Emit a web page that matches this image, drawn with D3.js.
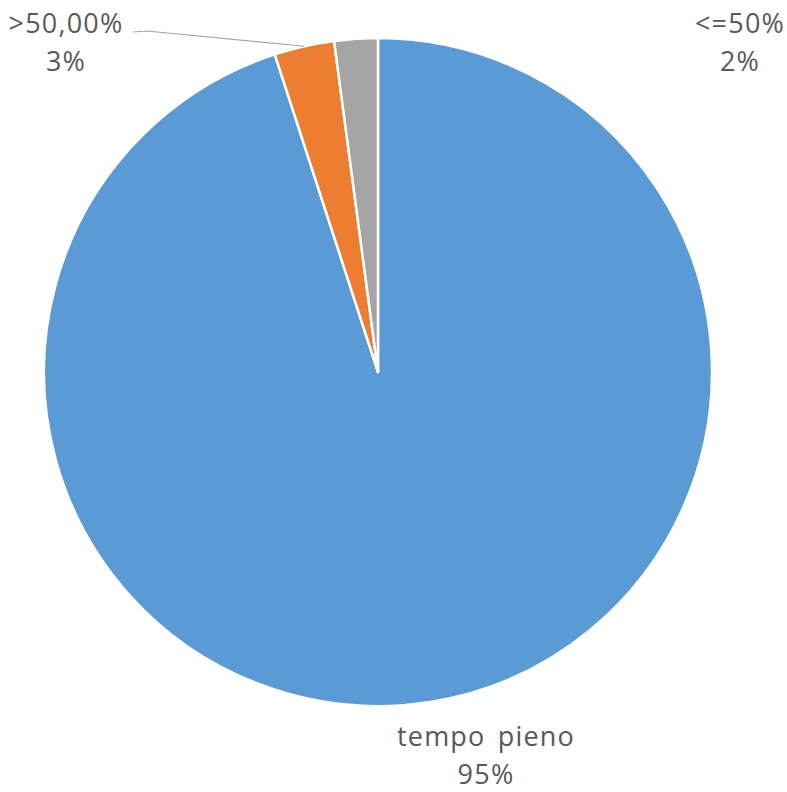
<!DOCTYPE html>
<html>
<head>
<meta charset="utf-8">
<script src="https://cdn.jsdelivr.net/npm/d3@7"></script>
<style>
  body { margin: 0; background: #fff; }
  #chart { width: 787px; height: 792px; }
  text { font-family: "Open Sans", "Noto Sans", sans-serif; fill: #595959; }
</style>
</head>
<body>
<div id="chart"></div>
<script>
const categories = ['tempo pieno', '>50,00%', '<=50%'];
const values = [95.0, 2.9, 2.1];
const valueLabels = ['95%', '3%', '2%'];
const colors = ['#5b9bd5', '#ed7d31', '#a5a5a5'];

const width = 787, height = 792;
const cx = 378, cy = 372, radius = 334;

// where each label block sits (center x, first baseline y)
const labelPlace = [
  { x: 486, y: 746 },
  { x: 66, y: 33 },
  { x: 740, y: 33 }
];

const svg = d3.select('#chart').append('svg')
  .attr('width', width)
  .attr('height', height);

const g = svg.append('g').attr('transform', `translate(${cx},${cy})`);

const data = categories.map((c, i) => ({ name: c, value: values[i], label: valueLabels[i], color: colors[i] }));

const pie = d3.pie().sort(null).value(d => d.value);
const arc = d3.arc().innerRadius(0).outerRadius(radius);
const arcs = pie(data);

g.selectAll('path')
  .data(arcs)
  .join('path')
  .attr('d', arc)
  .attr('fill', d => d.data.color)
  .attr('stroke', '#fff')
  .attr('stroke-width', 2.5)
  .attr('stroke-linejoin', 'round');

// leader line for the small orange slice
const lead = arcs[1];
const mid = (lead.startAngle + lead.endAngle) / 2;
const px = Math.sin(mid) * radius, py = -Math.cos(mid) * radius;
const lp = labelPlace[1];
g.append('polyline')
  .attr('points', [[lp.x - cx + 67, lp.y - cy - 1], [lp.x - cx + 81, lp.y - cy - 2], [px, py]].map(p => p.join(',')).join(' '))
  .attr('fill', 'none')
  .attr('stroke', '#a6a6a6')
  .attr('stroke-width', 1.2);

const lab = svg.selectAll('g.lab')
  .data(arcs)
  .join('g')
  .attr('class', 'lab')
  .attr('transform', (d, i) => `translate(${labelPlace[i].x},${labelPlace[i].y})`);

lab.append('text')
  .attr('text-anchor', 'middle')
  .attr('font-size', 27)
  .attr('letter-spacing', 1.2)
  .attr('word-spacing', 4)
  .text(d => d.data.name);

lab.append('text')
  .attr('text-anchor', 'middle')
  .attr('y', 38)
  .attr('font-size', 27)
  .attr('letter-spacing', 1.2)
  .text(d => d.data.label);
</script>
</body>
</html>
